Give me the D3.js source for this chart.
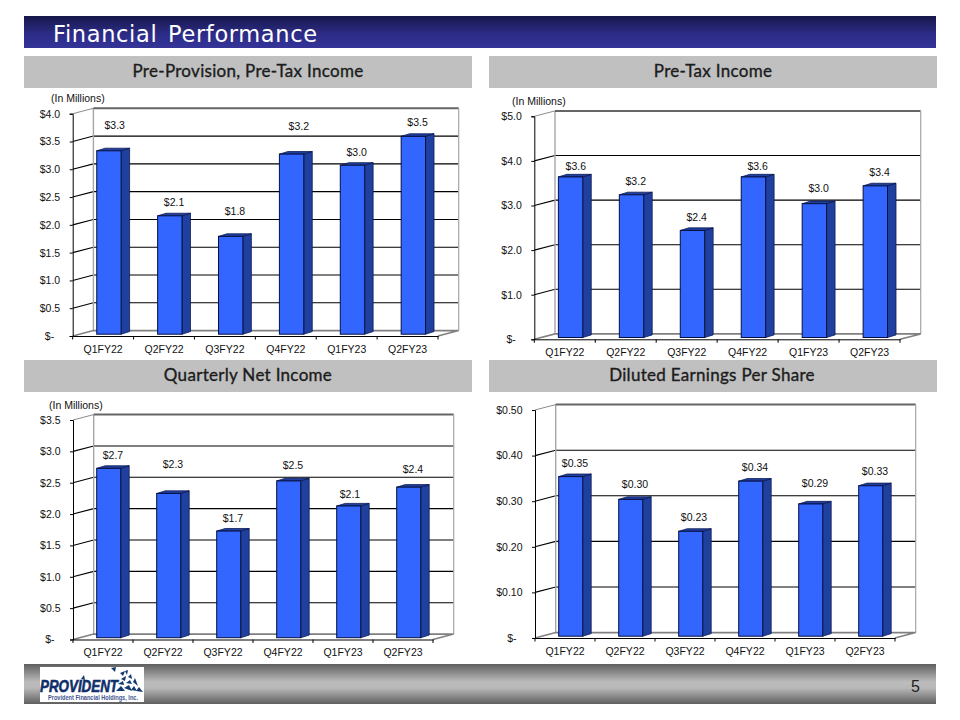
<!DOCTYPE html>
<html lang="en">
<head>
    <meta charset="UTF-8">
    <title>Financial Performance</title>
    <script src="https://d3js.org/d3.v7.min.js"></script>
    <style>
        html, body { margin: 0; padding: 0; background: #fff; }
        svg { display: block; }
        text { font-family: "Liberation Sans", Arial, sans-serif; fill: #111; }
        .tick text, .value-label, .unit-label { font-size: 10.5px; }
        .panel-title { font-family: Lato, sans-serif; font-weight: 400; font-size: 17px; letter-spacing: 0.3px; fill: #1c1c1c; stroke: #1c1c1c; stroke-width: 0.35px; }
    </style>
</head>
<body>
    <svg id="slide" width="960" height="720"></svg>
    <script>
        // Chart data
        const quarters = ["Q1FY22", "Q2FY22", "Q3FY22", "Q4FY22", "Q1FY23", "Q2FY23"];

        const preProvisionValues = [3.3, 2.13, 1.76, 3.24, 3.04, 3.56];
        const preProvisionLabels = ["$3.3", "$2.1", "$1.8", "$3.2", "$3.0", "$3.5"];
        const preProvisionTicks = [0, 0.5, 1, 1.5, 2, 2.5, 3, 3.5, 4];

        const preTaxValues = [3.6, 3.2, 2.4, 3.6, 3.0, 3.4];
        const preTaxLabels = ["$3.6", "$3.2", "$2.4", "$3.6", "$3.0", "$3.4"];
        const preTaxTicks = [0, 1, 2, 3, 4, 5];

        const netIncomeValues = [2.7, 2.3, 1.7, 2.5, 2.1, 2.4];
        const netIncomeLabels = ["$2.7", "$2.3", "$1.7", "$2.5", "$2.1", "$2.4"];
        const netIncomeTicks = [0, 0.5, 1, 1.5, 2, 2.5, 3, 3.5];

        const epsValues = [0.35, 0.30, 0.23, 0.34, 0.29, 0.33];
        const epsLabels = ["$0.35", "$0.30", "$0.23", "$0.34", "$0.29", "$0.33"];
        const epsTicks = [0, 0.1, 0.2, 0.3, 0.4, 0.5];

        // Layout of each panel. lifts = how far each value label floats above its bar
        const panels = [
            { title: "Pre-Provision, Pre-Tax Income", titleX: 248, titleY: 56,
              values: preProvisionValues, labels: preProvisionLabels, ticks: preProvisionTicks, digits: 1,
              left: 72.7, right: 438, top: 113.7, bottom: 336, unit: [51, 98],
              lifts: [26, 14, 26, 29, 14, 15], nudges: [1.5, 0, 0, 3, 0, 0] },
            { title: "Pre-Tax Income", titleX: 713, titleY: 56,
              values: preTaxValues, labels: preTaxLabels, ticks: preTaxTicks, digits: 1,
              left: 534.3, right: 900, top: 116.3, bottom: 339.3, unit: [512, 101],
              lifts: [11, 14, 14, 11, 16, 14], nudges: [1, 0, 0, 0, 0, 0] },
            { title: "Quarterly Net Income", titleX: 248, titleY: 360,
              values: netIncomeValues, labels: netIncomeLabels, ticks: netIncomeTicks, digits: 1,
              left: 73, right: 433, top: 420, bottom: 639.5, unit: [49, 405],
              lifts: [14, 30, 14, 16, 13, 19], nudges: [0, 0, 0, 0, -3, 0] },
            { title: "Diluted Earnings Per Share", titleX: 712, titleY: 360,
              values: epsValues, labels: epsLabels, ticks: epsTicks, digits: 2,
              left: 535, right: 895, top: 410, bottom: 638, unit: null,
              lifts: [14, 16, 15, 15, 21, 15], nudges: [0, 0, -1, 0, 0, 0] }
        ];

        // 3D look of the chart: wall offset and bar depth
        const wallDx = 20.7, wallDy = 5.4;
        const barDx = 8.5, barDy = 2.6, barRise = 1.8;

        // Triangles of the logo mark
        const logoShards = [
            "111,668 116,667 115,672", "120,673 125,671 123,676", "125,671 128,670 127,675",
            "81,679 84,675 85,680", "121,679 126,676 125,681", "128,677 131,674 132,679",
            "118,684 123,681 124,685", "126,683 130,680 132,684", "133,682 135,678 138,686",
            "116,691 121,686 125,691", "124,688 129,685 132,691", "131,690 134,686 137,691",
            "136,691 139,687 143,692"
        ];

        const svg = d3.select("#slide");
        const defs = svg.append("defs");

        function verticalGradient(id, stops) {
            const g = defs.append("linearGradient").attr("id", id)
                .attr("x1", 0).attr("y1", 0).attr("x2", 0).attr("y2", 1);
            stops.forEach(s => g.append("stop").attr("offset", s[0]).attr("stop-color", s[1]));
        }
        verticalGradient("titleFill", [[0, "#17174a"], [0.55, "#2c2c86"], [1, "#343499"]]);
        verticalGradient("footFill", [[0, "#5f5f5f"], [0.45, "#bcbcbc"], [0.6, "#b8b8b8"], [1, "#5f5f5f"]]);

        // Slide title
        svg.append("rect").attr("x", 24).attr("y", 16).attr("width", 912).attr("height", 32)
            .attr("fill", "url(#titleFill)");
        svg.append("text").attr("x", 53).attr("y", 41.5)
            .attr("textLength", 264).attr("lengthAdjust", "spacing")
            .style("font-family", "'DejaVu Sans', sans-serif").style("font-size", "22.5px")
            .style("word-spacing", "3px").style("fill", "#fff")
            .text("Financial Performance");

        function drawPanel(p) {
            const g = svg.append("g");

            // Grey header
            g.append("rect").attr("x", p.titleX < 480 ? 24 : 489).attr("y", p.titleY)
                .attr("width", 448).attr("height", 32).attr("fill", "#c0c0c0");
            g.append("text").attr("class", "panel-title")
                .attr("x", p.titleX).attr("y", p.titleY + 21).attr("text-anchor", "middle")
                .text(p.title);

            if (p.unit) {
                g.append("text").attr("class", "unit-label")
                    .attr("x", p.unit[0]).attr("y", p.unit[1] + 3.5).text("(In Millions)");
            }

            const x = d3.scaleBand().domain(quarters).range([p.left, p.right]);
            const y = d3.scaleLinear().domain(d3.extent(p.ticks)).range([p.bottom, p.top]);
            const band = x.bandwidth();
            const [x0, x1] = [p.left, p.right];
            const y0 = y(0), yMax = y(d3.max(p.ticks));

            // Back wall, side wall and floor
            g.append("rect").attr("x", x0 + wallDx).attr("y", yMax - wallDy)
                .attr("width", x1 - x0).attr("height", y0 - yMax).attr("fill", "#fff");

            g.selectAll(".grid").data(p.ticks.slice(1, -1)).join("path")
                .attr("class", "grid").attr("fill", "none").attr("stroke", "#000").attr("stroke-width", 1.1)
                .attr("d", d => `M${x0},${y(d)}L${x0 + wallDx},${y(d) - wallDy}L${x1 + wallDx},${y(d) - wallDy}`);

            // Wall outlines
            g.append("path").attr("fill", "none").attr("stroke", "#a6a6a6").attr("stroke-width", 1.4)
                .attr("d", `M${x0 + wallDx},${yMax - wallDy}V${y0 - wallDy}`);
            g.append("path").attr("fill", "none").attr("stroke", "#8c8c8c").attr("stroke-width", 1)
                .attr("d", `M${x0},${yMax}L${x0 + wallDx},${yMax - wallDy}`);
            g.append("path").attr("fill", "none").attr("stroke", "#666").attr("stroke-width", 2)
                .attr("d", `M${x0 + wallDx},${yMax - wallDy}H${x1 + wallDx}`);
            g.append("path").attr("fill", "none").attr("stroke", "#a6a6a6").attr("stroke-width", 1.2)
                .attr("d", `M${x1 + wallDx},${yMax - wallDy}V${y0 - wallDy}`);
            g.append("path").attr("fill", "none").attr("stroke", "#808080").attr("stroke-width", 1.6)
                .attr("d", `M${x0},${y0}L${x0 + wallDx},${y0 - wallDy}H${x1 + wallDx}L${x1},${y0}`);

            // Bars: side, top, then front face
            const barX = d => x(d.q) + band * 0.395;
            const barW = band * 0.4;
            const barY = d => y(d.v) - barRise;
            const barBase = y0 - barRise;
            const rows = quarters.map((q, i) => ({ q, v: p.values[i], label: p.labels[i], lift: p.lifts[i], nudge: p.nudges[i] }));

            const bars = g.selectAll(".bar").data(rows).join("g").attr("class", "bar");
            bars.append("path").attr("fill", "#20409f").attr("stroke", "#0c1a55").attr("stroke-width", 0.8)
                .attr("d", d => `M${barX(d) + barW},${barBase}V${barY(d)}l${barDx},${-barDy}V${barBase - barDy}Z`);
            bars.append("path").attr("fill", "#20409f").attr("stroke", "#0c1a55").attr("stroke-width", 0.8)
                .attr("d", d => `M${barX(d)},${barY(d)}l${barDx},${-barDy}h${barW}l${-barDx},${barDy}Z`);
            bars.append("rect").attr("x", barX).attr("y", barY)
                .attr("width", barW).attr("height", d => barBase - barY(d))
                .attr("fill", "#3366ff").attr("stroke", "#07103f").attr("stroke-width", 1);

            bars.append("text").attr("class", "value-label").attr("text-anchor", "middle")
                .attr("x", d => barX(d) + (barW + barDx) / 2 + d.nudge)
                .attr("y", d => barY(d) - d.lift + 4.5)
                .text(d => d.label);

            // Front axes
            const yAxis = d3.axisLeft(y).tickValues(p.ticks).tickSize(3).tickPadding(9.5)
                .tickFormat(d => d === 0 ? "$-" : "$" + d.toFixed(p.digits));
            const yg = g.append("g").attr("transform", `translate(${x0},0)`).call(yAxis);
            yg.select(".domain").attr("stroke", "#000");
            yg.selectAll(".tick text").style("font-size", "10.5px")
                .attr("dx", d => d === 0 ? -6 : 0);

            const xAxis = d3.axisBottom(x).tickSize(0).tickPadding(9.5);
            const xg = g.append("g").attr("transform", `translate(0,${y0})`).call(xAxis);
            xg.select(".domain").attr("stroke", "#000");
            xg.selectAll(".tick text").style("font-size", "10.5px");

            g.selectAll(".x-mark").data(quarters.concat("end")).join("line")
                .attr("class", "x-mark").attr("stroke", "#000")
                .attr("x1", d => d === "end" ? x1 : x(d)).attr("x2", d => d === "end" ? x1 : x(d))
                .attr("y1", y0).attr("y2", y0 + 3.5);
        }

        panels.forEach(drawPanel);

        // Footer bar with logo and page number
        svg.append("rect").attr("x", 24).attr("y", 664).attr("width", 912).attr("height", 40)
            .attr("fill", "url(#footFill)");
        svg.append("text").attr("x", 911).attr("y", 692)
            .style("font-size", "16px").style("fill", "#222")
            .text("5");

        const logo = svg.append("g");
        logo.append("rect").attr("x", 40).attr("y", 667).attr("width", 104).attr("height", 35).attr("fill", "#fff");
        logo.selectAll("polygon").data(logoShards).join("polygon")
            .attr("points", d => d).attr("fill", "#123a70");
        logo.append("text").attr("x", 40).attr("y", 692)
            .attr("textLength", 78).attr("lengthAdjust", "spacingAndGlyphs")
            .style("font-size", "16.5px").style("font-weight", "bold").style("font-style", "italic")
            .style("fill", "#0f2f6a").style("stroke", "#0f2f6a").style("stroke-width", 0.6)
            .text("PROVIDENT");
        logo.append("text").attr("x", 48).attr("y", 700)
            .attr("textLength", 90).attr("lengthAdjust", "spacingAndGlyphs")
            .style("font-size", "6.5px").style("font-weight", "bold").style("fill", "#3f5590")
            .text("Provident Financial Holdings, Inc.");
    </script>
</body>
</html>
